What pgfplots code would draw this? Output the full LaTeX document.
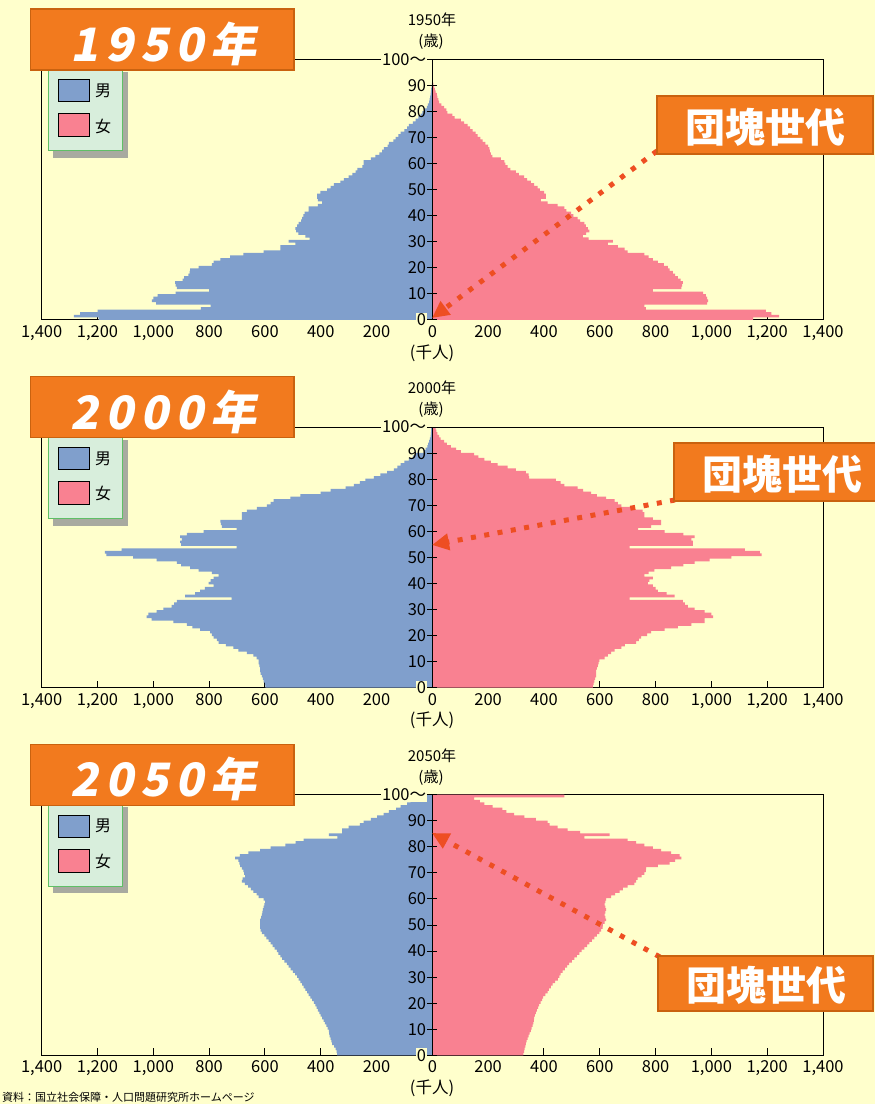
\documentclass[border=0pt]{standalone}
\usepackage{fontspec}
\setmainfont{Noto Sans CJK JP}
\usepackage{pgfplots}
\usepackage{pgfplotstable}
\pgfplotsset{compat=1.18}
\usetikzlibrary{arrows.meta}
\definecolor{bg}{HTML}{FFFFCC}
\definecolor{mblue}{HTML}{809FCC}
\definecolor{fpink}{HTML}{F98191}
\definecolor{orng}{HTML}{F27A1E}
\definecolor{orngd}{HTML}{C9620F}
\definecolor{arr}{HTML}{EE4E22}
\definecolor{lgbg}{HTML}{D8EEDC}
\definecolor{lgbd}{HTML}{5FBF66}
\definecolor{shd}{HTML}{A8AAA0}

\pgfplotstableread{
age m f
0 1196 1150
1 1285 1243
2 1262 1215
3 1200 1195
4 830 765
5 795 760
6 990 985
7 1005 988
8 1000 985
9 985 980
10 920 970
11 800 790
12 916 892
13 920 895
14 922 898
15 895 890
16 890 880
17 874 870
18 870 862
19 868 850
20 838 844
21 790 830
22 784 808
23 760 790
24 725 775
25 677 760
26 605 700
27 545 689
28 545 665
29 491 629
30 515 647
31 440 560
32 455 539
33 480 551
34 488 563
35 491 557
36 485 550
37 479 545
38 470 530
39 467 521
40 462 505
41 458 497
42 443 480
43 443 473
44 410 449
45 395 413
46 410 389
47 413 407
48 413 407
49 401 401
50 377 385
51 365 377
52 353 365
53 330 353
54 317 340
55 300 329
56 287 310
57 275 299
58 269 280
59 251 270
60 246 262
61 246 258
62 220 246
63 204 215
64 190 210
65 180 206
66 174 204
67 160 200
68 156 190
69 140 180
70 132 172
71 122 162
72 114 155
73 100 144
74 90 135
75 84 126
76 70 114
77 60 102
78 50 80
79 42 72
80 36 54
81 28 50
82 20 42
83 16 32
84 12 24
85 10 22
86 8 18
87 6 16
88 5 12
89 4 9
90 3 6
91 2 4
92 1 2
93 0 0
94 0 0
95 0 0
96 0 0
97 0 0
98 0 0
99 0 0
100 0 0
}\tA

\pgfplotstableread{
age m f
0 598 575
1 600 578
2 605 581
3 607 583
4 611 587
5 615 587
6 617 587
7 617 590
8 620 593
9 623 596
10 623 599
11 630 617
12 641 629
13 665 641
14 695 653
15 713 677
16 740 690
17 766 730
18 772 740
19 784 748
20 790 770
21 796 784
22 832 832
23 860 880
24 880 928
25 928 976
26 1006 976
27 1024 1006
28 1018 1000
29 988 976
30 964 940
31 934 916
32 925 905
33 916 898
34 719 707
35 886 868
36 850 840
37 832 808
38 815 800
39 784 790
40 802 772
41 795 778
42 784 790
43 766 760
44 790 775
45 838 796
46 868 856
47 900 900
48 916 940
49 988 994
50 1072 1072
51 1168 1180
52 1174 1174
53 1114 1120
54 701 707
55 900 934
56 904 934
57 898 928
58 904 940
59 880 900
60 820 832
61 701 737
62 754 784
63 758 820
64 760 820
65 683 790
66 683 760
67 683 760
68 665 754
69 629 719
70 593 677
71 580 665
72 569 653
73 509 623
74 473 590
75 400 569
76 365 540
77 311 521
78 281 473
79 260 460
80 240 443
81 210 347
82 186 345
83 162 335
84 138 299
85 125 270
86 114 234
87 100 210
88 84 186
89 70 165
90 60 150
91 30 102
92 24 85
93 18 66
94 15 52
95 12 42
96 9 30
97 6 24
98 5 18
99 4 14
100 4 12
}\tB

\pgfplotstableread{
age m f
0 341 326
1 343 329
2 347 331
3 352 333
4 359 335
5 362 338
6 365 341
7 368 345
8 370 349
9 371 353
10 375 356
11 380 359
12 385 362
13 390 364
14 395 365
15 400 367
16 405 371
17 410 375
18 415 379
19 419 383
20 425 388
21 431 393
22 437 397
23 443 405
24 449 413
25 455 418
26 461 425
27 467 431
28 473 440
29 479 450
30 485 455
31 492 460
32 500 467
33 508 475
34 515 483
35 521 490
36 530 500
37 538 509
38 545 518
39 552 527
40 557 535
41 565 545
42 572 555
43 580 563
44 587 572
45 595 581
46 602 590
47 611 599
48 615 605
49 617 610
50 617 611
51 617 617
52 617 623
53 614 620
54 611 617
55 609 620
56 607 623
57 605 620
58 602 617
59 599 620
60 605 623
61 623 641
62 630 655
63 641 671
64 650 683
65 660 700
66 672 724
67 683 730
68 680 736
69 671 750
70 675 760
71 677 765
72 683 766
73 689 808
74 692 850
75 695 870
76 707 892
77 690 886
78 659 856
79 617 820
80 580 790
81 527 760
82 490 730
83 461 700
84 340 545
85 371 635
86 323 530
87 323 485
88 300 449
89 260 420
90 246 413
91 220 371
92 198 330
93 175 293
94 156 265
95 130 251
96 114 216
97 90 186
98 78 170
99 50 150
100 40 473
}\tC

\pgfplotsset{
  boxax/.style={
    anchor=south west, width=781.3pt, height=260.5pt, scale only axis,
    xmin=-1400, xmax=1400, ymin=0, ymax=100,
    axis line style={black, line width=1pt},
    xtick={-1400,-1200,...,1400},
    xticklabels={{1,400},{1,200},{1,000},800,600,400,200,0,200,400,600,800,{1,000},{1,200},{1,400}},
    xticklabel style={font=\fontsize{16.5pt}{17pt}\selectfont, inner sep=1pt, yshift=-4.5pt},
    ytick=\empty,
    tick pos=left, tick align=inside, major tick length=7pt,
    every tick/.style={black, line width=1pt},
  },
  yax/.style={
    anchor=south west, width=781.3pt, height=260.5pt, scale only axis,
    xmin=-1400, xmax=1400, ymin=0, ymax=100,
    axis x line=none, axis y line=center,
    y axis line style={-, black, line width=1.6pt},
    hide obscured y ticks=false,
    ytick={10,20,...,90},
    yticklabels={10,20,30,40,50,60,70,80,90},
    extra y ticks={0,100},
    extra y tick labels={0,100～},
    extra y tick style={yticklabel style={fill=bg}},
    yticklabel style={font=\fontsize{16.5pt}{17pt}\selectfont, anchor=east, inner sep=1pt},
    tick align=center, major tick length=10pt,
    every tick/.style={black, line width=1pt},
  },
}

\newcommand{\panel}[3]{%
  \begin{axis}[boxax, at={(41.7pt,784pt)}]
    \addplot[xbar, bar width=1.04, bar shift=0pt, fill=mblue, draw=none]
      table[x expr=-\thisrow{m}, y expr=\thisrow{age}*0.990099+0.495] {#1};
    \addplot[xbar, bar width=1.04, bar shift=0pt, fill=fpink, draw=none]
      table[x=f, y expr=\thisrow{age}*0.990099+0.495] {#1};
  \end{axis}
  \begin{axis}[yax, at={(41.7pt,784pt)}]
  \end{axis}
  \node[font=\fontsize{15pt}{16pt}\selectfont, inner sep=0pt] at (432pt,1084pt) {#3年};
  \node[font=\fontsize{15pt}{16pt}\selectfont, inner sep=0pt] at (431pt,1062pt) {(歳)};
  \node[font=\fontsize{16.5pt}{17pt}\selectfont, inner sep=0pt] at (432pt,751pt) {(千人)};
  % legend
  \fill[shd] (53pt,1032pt) rectangle (128pt,946pt);
  \filldraw[fill=lgbg, draw=lgbd, line width=1pt] (48pt,1044pt) rectangle (122pt,953pt);
  \filldraw[fill=mblue, draw=black, line width=1pt] (58pt,1024pt) rectangle (89pt,1002pt);
  \filldraw[fill=fpink, draw=black, line width=1pt] (58pt,990pt) rectangle (89pt,967pt);
  \node[font=\fontsize{16pt}{17pt}\selectfont, inner sep=0pt] at (103pt,1013pt) {男};
  \node[font=\fontsize{16pt}{17pt}\selectfont, inner sep=0pt] at (103pt,978pt) {女};
  % year box
  \filldraw[fill=orng, draw=orngd, line width=1.2pt] (30.7pt,1095pt) rectangle (294pt,1034pt);
  \node[text=white, font=\fontsize{46pt}{46pt}\selectfont\bfseries, inner sep=0pt, xslant=0.2]
    at (167pt,1060pt) {#2年};
}

\begin{document}
\begin{tikzpicture}[x=1pt,y=1pt]
\useasboundingbox (0,0) rectangle (875,1104);
\fill[bg] (0,0) rectangle (875,1104);

\begin{scope}
\panel{\tA}{1\hspace{7pt}9\hspace{7pt}5\hspace{7pt}0\hspace{7pt}}{1950}
\end{scope}
\begin{scope}[yshift=-367.6pt]
\panel{\tB}{2\hspace{7pt}0\hspace{7pt}0\hspace{7pt}0\hspace{7pt}}{2000}
\end{scope}
\begin{scope}[yshift=-735.3pt]
\panel{\tC}{2\hspace{7pt}0\hspace{7pt}5\hspace{7pt}0\hspace{7pt}}{2050}
\end{scope}

% dankai annotations
\draw[arr, line width=5pt, dash pattern=on 5pt off 8.5pt, -{Triangle[length=17pt,width=16pt]}] (657,953) -- (432,786);
\filldraw[fill=orng, draw=orngd, line width=1.2pt] (657,1008) rectangle (873,950);
\node[text=white, font=\fontsize{40pt}{40pt}\selectfont\bfseries, inner sep=0pt] at (765,977) {団塊世代};

\draw[arr, line width=5pt, dash pattern=on 5pt off 8.5pt, -{Triangle[length=17pt,width=16pt]}] (675,604) -- (432,559);
\filldraw[fill=orng, draw=orngd, line width=1.2pt] (674,661) rectangle (880,603);
\node[text=white, font=\fontsize{40pt}{40pt}\selectfont\bfseries, inner sep=0pt] at (782,630) {団塊世代};

\draw[arr, line width=5pt, dash pattern=on 5pt off 8.5pt, -{Triangle[length=17pt,width=16pt]}] (660,147) -- (432,271);
\filldraw[fill=orng, draw=orngd, line width=1.2pt] (658,148) rectangle (873,93);
\node[text=white, font=\fontsize{40pt}{40pt}\selectfont\bfseries, inner sep=0pt] at (766,119) {団塊世代};

\node[anchor=south west, font=\fontsize{11pt}{11pt}\selectfont, inner sep=0pt] at (2,1.5) {資料：国立社会保障・人口問題研究所ホームページ};
\end{tikzpicture}
\end{document}
